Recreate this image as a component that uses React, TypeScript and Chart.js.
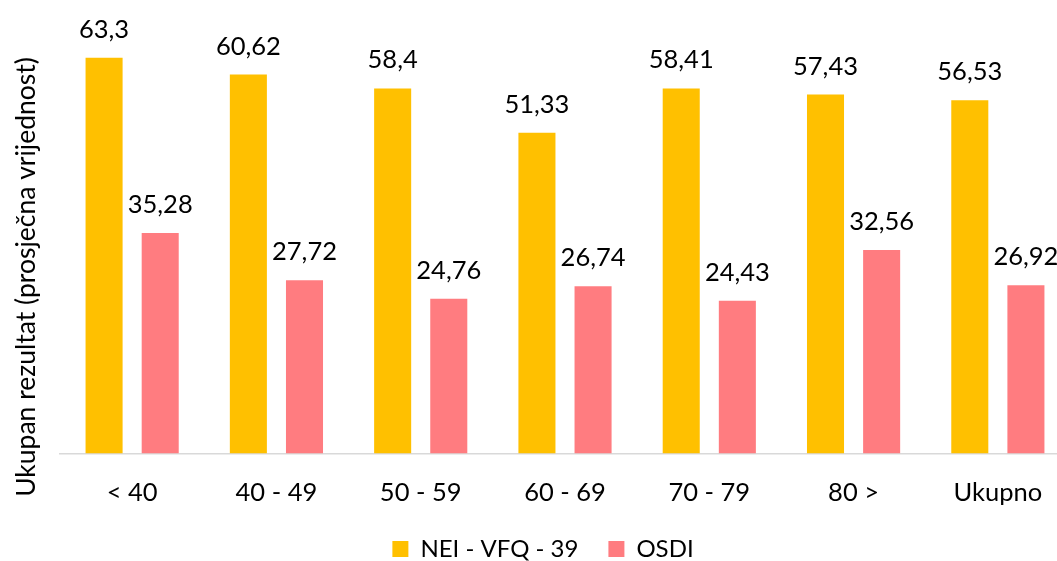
import React, { useEffect, useRef } from "react";
import { Chart, registerables } from "chart.js";

Chart.register(...registerables);

const categories = ["< 40", "40 - 49", "50 - 59", "60 - 69", "70 - 79", "80 >", "Ukupno"];
const neiValues = [63.3, 60.62, 58.4, 51.33, 58.41, 57.43, 56.53];
const osdiValues = [35.28, 27.72, 24.76, 26.74, 24.43, 32.56, 26.92];
const seriesNames = ["NEI - VFQ - 39", "OSDI"];
const yTitle = "Ukupan rezultat (prosječna vrijednost)";

const FONT = "Lato, 'Open Sans', sans-serif";

const valueLabels = {
  id: "valueLabels",
  afterDatasetsDraw(chart: any) {
    const ctx = chart.ctx;
    ctx.save();
    ctx.font = `25.5px ${FONT}`;
    ctx.fillStyle = "#000";
    ctx.textAlign = "center";
    ctx.textBaseline = "alphabetic";
    chart.data.datasets.forEach((ds: any, i: number) => {
      const meta = chart.getDatasetMeta(i);
      meta.data.forEach((bar: any, j: number) => {
        const v = ds.data[j];
        ctx.fillText(String(v).replace(".", ","), bar.x, bar.y - 20);
      });
    });
    ctx.restore();
  },
};

const yTitlePlugin = {
  id: "yTitlePlugin",
  afterDraw(chart: any) {
    const ctx = chart.ctx;
    ctx.save();
    ctx.font = `26.5px ${FONT}`;
    ctx.fillStyle = "#000";
    ctx.textAlign = "center";
    ctx.textBaseline = "middle";
    ctx.translate(26, 277);
    ctx.rotate(-Math.PI / 2);
    ctx.fillText(yTitle, 0, 0);
    ctx.restore();
  },
};

export default function App() {
  const ref = useRef<HTMLCanvasElement>(null);
  useEffect(() => {
    if (!ref.current) return;
    const chart = new Chart(ref.current, {
      type: "bar",
      data: {
        labels: categories,
        datasets: [
          {
            label: seriesNames[0],
            data: neiValues,
            backgroundColor: "#FFC000",
          },
          {
            label: seriesNames[1],
            data: osdiValues,
            backgroundColor: "#FF7C80",
          },
        ],
      },
      options: {
        responsive: false,
        animation: false,
        devicePixelRatio: 1,
        categoryPercentage: 0.778,
        barPercentage: 0.66,
        layout: { padding: { top: 16, right: 2, left: 16, bottom: 0 } },
        plugins: {
          legend: {
            position: "bottom",
            labels: {
              boxWidth: 16,
              boxHeight: 16,
              color: "#000",
              padding: 30,
              font: { family: FONT, size: 24 },
            },
          },
          tooltip: { enabled: false },
        },
        scales: {
          x: {
            grid: { display: false },
            border: { display: true, color: "#D9D9D9", width: 1.5 },
            ticks: {
              color: "#000",
              padding: 16,
              font: { family: FONT, size: 25.5 },
              maxRotation: 0,
            },
            afterFit: (s: any) => {
              s.height -= 17;
            },
          },
          y: {
            min: 0,
            max: 70,
            display: true,
            grid: { display: false },
            border: { display: false },
            ticks: { display: false },
            afterFit: (s: any) => {
              s.width = 44;
            },
          },
        },
      },
      plugins: [valueLabels, yTitlePlugin],
    });
    return () => chart.destroy();
  }, []);
  return (
    <div
      style={{
        position: "fixed",
        left: 0,
        top: 0,
        width: 1057,
        height: 561,
        overflow: "hidden",
        background: "#fff",
      }}
    >
      <canvas ref={ref} width={1072} height={571} style={{ display: "block" }} />
    </div>
  );
}
